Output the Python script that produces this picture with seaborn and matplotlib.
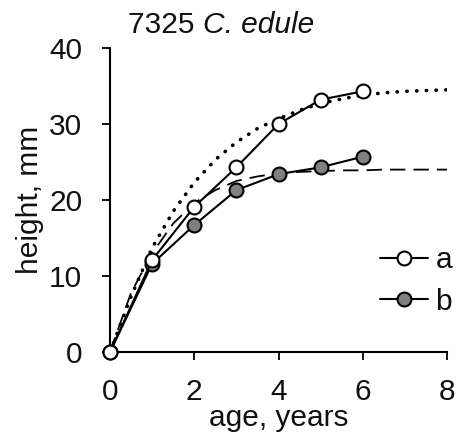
import pandas as pd
import seaborn as sns
import matplotlib.pyplot as plt

# observed mean heights
age = [0, 1, 2, 3, 4, 5, 6]
height_a = [0, 12.1, 19.1, 24.3, 30.0, 33.2, 34.3]
height_b = [0, 11.6, 16.7, 21.3, 23.4, 24.3, 25.7]

# fitted growth curves
age_fit = [0, 0.5, 1, 1.5, 2, 2.5, 3, 3.5, 4, 4.5, 5, 5.5, 6, 6.5, 7, 7.5, 8]
fit_a = [0, 7.3, 13.7, 18.5, 22.3, 25.3, 27.6, 29.4, 30.7, 31.8, 32.7, 33.3, 33.8, 34.1, 34.3, 34.4, 34.5]
fit_b = [0, 7.8, 13.0, 16.9, 19.6, 21.3, 22.5, 23.1, 23.5, 23.7, 23.8, 23.9, 23.9, 24.0, 24.0, 24.0, 24.0]

sns.set_style('ticks')
plt.rcParams['font.family'] = ['Liberation Sans', 'DejaVu Sans']
plt.rcParams['text.color'] = '#111111'
plt.rcParams['axes.labelcolor'] = '#111111'
plt.rcParams['xtick.labelcolor'] = '#111111'
plt.rcParams['ytick.labelcolor'] = '#111111'

fs = 21.5

fig = plt.figure(figsize=(4.62, 4.44), dpi=100)
ax = fig.add_axes([110 / 462, 92 / 444, 337 / 462, 304 / 444])

sns.lineplot(x=age_fit, y=fit_a, color='black', linewidth=2.6,
             linestyle=(0, (0.1, 2.6)), dash_capstyle='round', ax=ax)
sns.lineplot(x=age_fit, y=fit_b, color='black', linewidth=1.3,
             linestyle=(0, (8.5, 4.5)), ax=ax)
sns.lineplot(x=age, y=height_a, color='black', linewidth=1.5, marker='o',
             markersize=10, markerfacecolor='white', markeredgecolor='black',
             markeredgewidth=1.5, label='a', clip_on=False, zorder=5, ax=ax)
sns.lineplot(x=age, y=height_b, color='black', linewidth=1.5, marker='o',
             markersize=10, markerfacecolor='#808080', markeredgecolor='black',
             markeredgewidth=1.5, label='b', clip_on=False, zorder=4, ax=ax)

ax.set(xlim=(0, 8), ylim=(0, 40), xticks=[0, 2, 4, 6, 8], yticks=[0, 10, 20, 30, 40])
ax.set_xlabel('age, years', fontsize=fs, labelpad=-2)
ax.set_ylabel('height, mm', fontsize=fs, labelpad=4)
ax.tick_params(labelsize=fs, length=6, width=1.3, color='black')
ax.tick_params(axis='x', pad=13)
ax.tick_params(axis='y', pad=14)
sns.despine(ax=ax)
for side in ['left', 'bottom']:
    ax.spines[side].set_linewidth(1.5)
    ax.spines[side].set_color('black')

ax.legend(loc='lower right', bbox_to_anchor=(1.05, 0.08), frameon=False, fontsize=fs,
          handlelength=1.6, handletextpad=0.25, labelspacing=0.45, borderaxespad=0)

# title: plain number followed by italic species name
t1 = fig.text(128 / 462, 1 - 33 / 444, '7325 ', fontsize=fs, va='baseline')
fig.canvas.draw()
x1 = fig.transFigure.inverted().transform(t1.get_window_extent().p1)[0]
fig.text(x1, 1 - 33 / 444, 'C. edule', fontsize=fs, va='baseline', fontstyle='italic')

fig.savefig('out.png', dpi=100)
